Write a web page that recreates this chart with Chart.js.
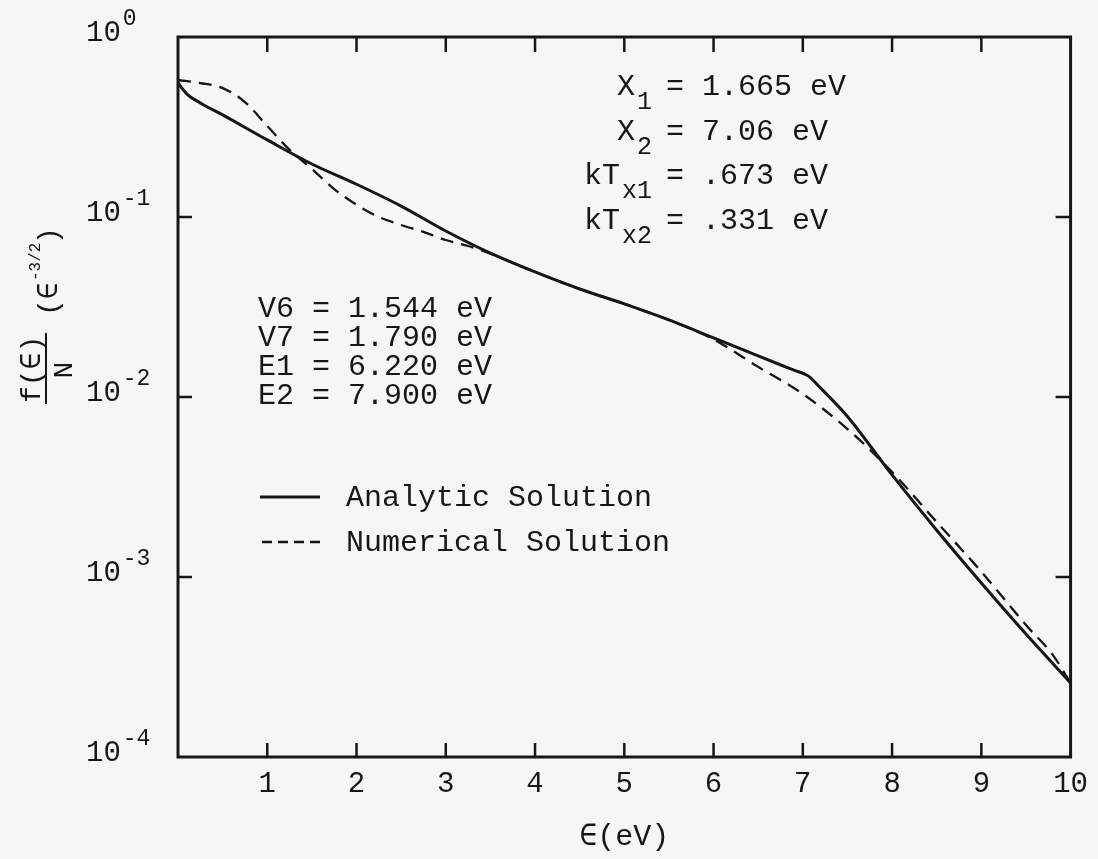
<!DOCTYPE html>
<html>
<head>
<meta charset="utf-8">
<script src="https://cdn.jsdelivr.net/npm/chart.js@4.4.1/dist/chart.umd.min.js"></script>
<style>
  html, body { margin: 0; padding: 0; background: #f6f6f4; }
  canvas { display: block; }
</style>
</head>
<body>
<canvas id="chart" width="1098" height="859"></canvas>
<script>
// energy grid (eV) and distribution values
const analyticX = [0, 0.1, 0.25, 0.5, 1, 1.5, 2, 2.5, 3, 3.5, 4, 4.5, 5, 5.5, 6, 6.5, 6.9, 7.06, 7.2, 7.5, 8, 8.5, 9, 9.5, 10];
const analyticY = [0.555, 0.482, 0.43, 0.369, 0.268, 0.197, 0.152, 0.115, 0.0836, 0.063, 0.0495, 0.0398, 0.0329, 0.0268, 0.0213, 0.0169, 0.0141, 0.0131, 0.0112, 0.0078, 0.00369, 0.00182, 0.000926, 0.000482, 0.000258];

const numericalX = [0, 0.25, 0.5, 0.75, 1, 1.25, 1.5, 1.75, 2, 2.25, 2.5, 2.75, 3, 3.25, 3.5, 4, 4.5, 5, 5.5, 6, 6.5, 7, 7.5, 8, 8.5, 9, 9.5, 9.8, 10];
const numericalY = [0.577, 0.555, 0.52, 0.435, 0.32, 0.236, 0.185, 0.143, 0.117, 0.1, 0.0903, 0.0826, 0.0745, 0.069, 0.0625, 0.0495, 0.0398, 0.0329, 0.0268, 0.0209, 0.0147, 0.0104, 0.00664, 0.00383, 0.00202, 0.00107, 0.000541, 0.000369, 0.000258];

const decadeExponents = ['0', '-1', '-2', '-3', '-4'];
const seriesNames = ['Analytic Solution', 'Numerical Solution'];

// fit parameters printed on the plot: [symbol, subscript, value]
const fitParams = [
  ['X', '1', '1.665 eV'],
  ['X', '2', '7.06 eV'],
  ['kT', 'x1', '.673 eV'],
  ['kT', 'x2', '.331 eV']
];
const levelParams = ['V6 = 1.544 eV', 'V7 = 1.790 eV', 'E1 = 6.220 eV', 'E2 = 7.900 eV'];

const INK = '#161616';
const MONO = "'Liberation Mono', 'DejaVu Sans Mono', monospace";

const toPoints = (xs, ys) => xs.map((x, i) => ({ x: x, y: ys[i] }));

const paperPlugin = {
  id: 'paper',
  afterDraw(chart) {
    const ctx = chart.ctx;
    const area = chart.chartArea;
    const xs = chart.scales.x;
    const ys = chart.scales.y;
    ctx.save();
    ctx.strokeStyle = INK;
    ctx.fillStyle = INK;

    // frame
    ctx.lineWidth = 3;
    ctx.strokeRect(area.left, area.top, area.right - area.left, area.bottom - area.top);

    // inward ticks
    ctx.lineWidth = 2.5;
    for (let v = 1; v <= 9; v++) {
      const px = xs.getPixelForValue(v);
      ctx.beginPath();
      ctx.moveTo(px, area.bottom); ctx.lineTo(px, area.bottom - 14);
      ctx.moveTo(px, area.top); ctx.lineTo(px, area.top + 15);
      ctx.stroke();
    }
    for (let k = 1; k <= 3; k++) {
      const py = ys.getPixelForValue(Math.pow(10, -k));
      ctx.beginPath();
      ctx.moveTo(area.left, py); ctx.lineTo(area.left + 14, py);
      ctx.moveTo(area.right, py); ctx.lineTo(area.right - 15, py);
      ctx.stroke();
    }

    // decade labels with exponents
    ctx.textAlign = 'left';
    ctx.textBaseline = 'middle';
    decadeExponents.forEach((e, k) => {
      const py = ys.getPixelForValue(Math.pow(10, -k));
      ctx.font = '29px ' + MONO;
      ctx.fillText('10', 86, py - 4);
      const w = ctx.measureText('10').width;
      ctx.font = '23px ' + MONO;
      ctx.fillText(e, 86 + w + 2, py - 18);
    });

    // y title: f(∈)/N (∈^-3/2), reading upward
    ctx.lineWidth = 2;
    ctx.beginPath();
    ctx.moveTo(46, 333); ctx.lineTo(46, 404);
    ctx.stroke();
    ctx.save();
    ctx.rotate(-Math.PI / 2);
    ctx.textBaseline = 'alphabetic';
    ctx.textAlign = 'left';
    ctx.font = '28px ' + MONO;
    ctx.fillText('f(\u2208)', -403, 40);
    ctx.textAlign = 'center';
    ctx.fillText('N', -370, 72);
    ctx.textAlign = 'left';
    ctx.fillText('(\u2208', -316, 57);
    ctx.font = '16px ' + MONO;
    ctx.fillText('-3/2', -281, 40);
    ctx.font = '28px ' + MONO;
    ctx.fillText(')', -244, 57);
    ctx.restore();

    // fit parameters, upper right
    ctx.textBaseline = 'alphabetic';
    fitParams.forEach((row, i) => {
      const base = 95 + i * 44.5;
      ctx.font = '25px ' + MONO;
      const subW = ctx.measureText(row[1]).width;
      ctx.textAlign = 'right';
      ctx.fillText(row[1], 652, base + 14);
      ctx.font = '30px ' + MONO;
      ctx.fillText(row[0], 650 - subW, base);
      ctx.textAlign = 'left';
      ctx.fillText('= ' + row[2], 666, base);
    });

    // level energies
    ctx.font = '30px ' + MONO;
    levelParams.forEach((t, i) => {
      ctx.fillText(t, 258, 317 + i * 29);
    });

    // key
    ctx.lineWidth = 3;
    ctx.beginPath();
    ctx.moveTo(260, 497); ctx.lineTo(320, 497);
    ctx.stroke();
    ctx.lineWidth = 2.5;
    ctx.setLineDash([10, 6]);
    ctx.beginPath();
    ctx.moveTo(262, 542); ctx.lineTo(322, 542);
    ctx.stroke();
    ctx.setLineDash([]);
    ctx.textBaseline = 'middle';
    ctx.fillText(seriesNames[0], 346, 498);
    ctx.fillText(seriesNames[1], 346, 543);

    ctx.restore();
  }
};

new Chart(document.getElementById('chart'), {
  type: 'line',
  data: {
    datasets: [
      {
        label: seriesNames[0],
        data: toPoints(analyticX, analyticY),
        borderColor: INK,
        borderWidth: 3,
        pointRadius: 0,
        cubicInterpolationMode: 'monotone'
      },
      {
        label: seriesNames[1],
        data: toPoints(numericalX, numericalY),
        borderColor: INK,
        borderWidth: 2.3,
        borderDash: [13, 8],
        pointRadius: 0,
        cubicInterpolationMode: 'monotone'
      }
    ]
  },
  options: {
    responsive: false,
    devicePixelRatio: 1,
    animation: false,
    layout: { padding: { top: 37, right: 25, left: 0, bottom: 0 } },
    plugins: {
      legend: { display: false },
      tooltip: { enabled: false }
    },
    scales: {
      x: {
        type: 'linear',
        min: 0,
        max: 10,
        grid: { display: false, drawTicks: false },
        border: { display: false },
        ticks: {
          stepSize: 1,
          padding: 10,
          color: INK,
          font: { family: MONO, size: 29 },
          callback: v => (v === 0 ? '' : v)
        },
        title: {
          display: true,
          text: '\u2208(eV)',
          color: INK,
          font: { family: MONO, size: 30 },
          padding: { top: 4, bottom: 4 }
        },
        afterFit: s => { s.height = 102; }
      },
      y: {
        type: 'logarithmic',
        min: 1e-4,
        max: 1,
        grid: { display: false, drawTicks: false },
        border: { display: false },
        ticks: { display: false },
        afterFit: s => { s.width = 178; }
      }
    }
  },
  plugins: [paperPlugin]
});
</script>
</body>
</html>
